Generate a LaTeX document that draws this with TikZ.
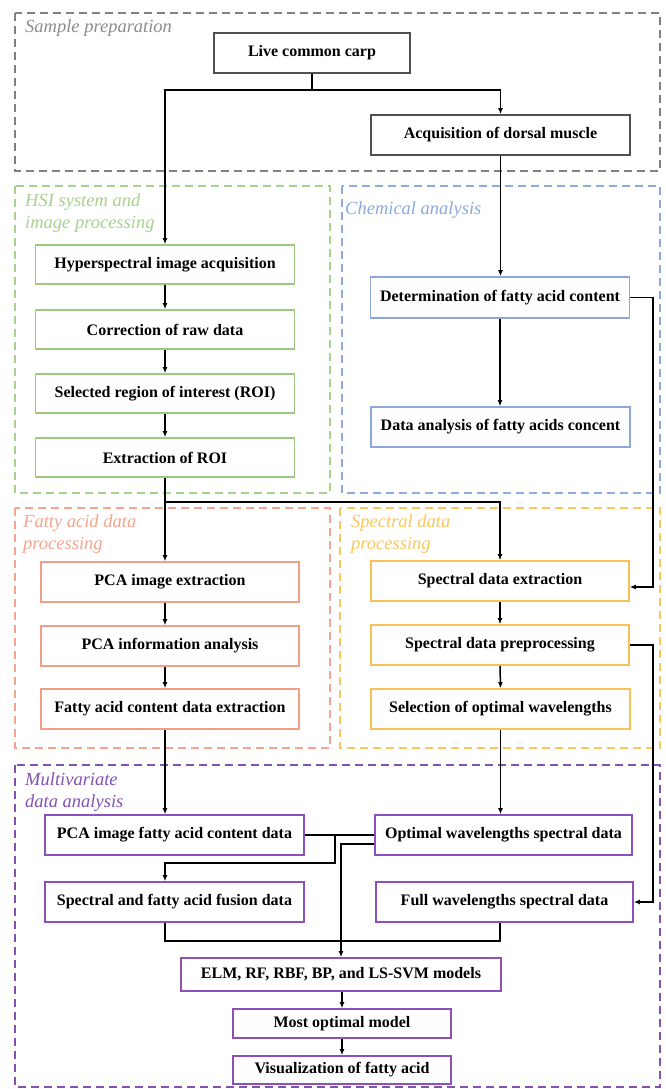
\documentclass[tikz,border=0pt]{standalone}
\usepackage{fontspec}
\setmainfont{Liberation Serif}
\usetikzlibrary{arrows.meta,calc}
\definecolor{cgray}{HTML}{808080}
\definecolor{cgraybox}{HTML}{505050}
\definecolor{cgreen}{HTML}{A9D18E}
\definecolor{cgreenbox}{HTML}{9CC97E}
\definecolor{cblue}{HTML}{8EA9DB}
\definecolor{cbluebox}{HTML}{8FA7DC}
\definecolor{csalmon}{HTML}{F5A58D}
\definecolor{csalmonbox}{HTML}{F39E87}
\definecolor{corange}{HTML}{FAC75E}
\definecolor{corangebox}{HTML}{F9C157}
\definecolor{cpurple}{HTML}{8352B0}
\definecolor{cpurplebox}{HTML}{8B50BA}
\begin{document}
\begin{tikzpicture}[x=1pt,y=-1pt,
  box/.style={draw, line width=1.6pt, minimum height=40pt, inner sep=2pt,
    font=\bfseries\fontsize{16}{19}\selectfont, fill=white},
  grp/.style={draw, line width=1.3pt, dash pattern=on 8pt off 5pt},
  lbl/.style={font=\itshape\fontsize{18.5}{22.5}\selectfont, anchor=north west,
    inner sep=0pt, align=left},
  arr/.style={line width=1.5pt, -{Latex[length=6pt,width=5pt]}},
  ln/.style={line width=1.5pt},
]
\useasboundingbox (0,0) rectangle (666,1089);
\fill[white] (0,0) rectangle (666,1089);

% group frames
\draw[grp, cgray]   (15,13)  rectangle (660,171);
\draw[grp, cgreen]  (15,186) rectangle (330,493);
\draw[grp, cblue]   (342,186) rectangle (660,493);
\draw[grp, csalmon] (15,508) rectangle (330,748);
\draw[grp, corange] (340,508) rectangle (660,748);
\draw[grp, cpurple] (15,765) rectangle (660,1087);

% group labels
\node[lbl, text=cgray!90] (lsample) at (25,19) {Sample preparation};
\node[lbl, text=cgreen] (lhsi) at (25,193) {HSI system and\\image processing};
\node[lbl, text=cblue] (lchem) at (345,201) {Chemical analysis};
\node[lbl, text=csalmon] (lfat) at (23,514) {Fatty acid data\\processing};
\node[lbl, text=corange] (lspec) at (351,514) {Spectral data\\processing};
\node[lbl, text=cpurple] (lmulti) at (25,772) {Multivariate\\data analysis};

% boxes
\node[box, draw=cgraybox, minimum width=196pt] (carp) at (312,53) {Live common carp};
\node[box, draw=cgraybox, minimum width=259pt] (acq) at (500.5,135) {Acquisition of dorsal muscle};

\node[box, draw=cgreenbox, minimum width=259pt, minimum height=39pt] (hsi1) at (165,264.5) {Hyperspectral image acquisition};
\node[box, draw=cgreenbox, minimum width=259pt, minimum height=39pt] (hsi2) at (165,329.5) {Correction of raw data};
\node[box, draw=cgreenbox, minimum width=259pt, minimum height=39pt] (hsi3) at (165,393.5) {Selected region of interest (ROI)};
\node[box, draw=cgreenbox, minimum width=259pt, minimum height=39pt] (hsi4) at (165,457.5) {Extraction of ROI};

\node[box, draw=cbluebox, minimum width=259pt, minimum height=41pt] (det) at (500,297.5) {Determination of fatty acid content};
\node[box, draw=cbluebox, minimum width=259pt] (dataan) at (500.5,427) {Data analysis of fatty acids concent};

\node[box, draw=csalmonbox, minimum width=258pt] (pca1) at (170,582) {PCA image extraction};
\node[box, draw=csalmonbox, minimum width=258pt] (pca2) at (170,646) {PCA information analysis};
\node[box, draw=csalmonbox, minimum width=258pt] (pca3) at (170,709) {Fatty acid content data extraction};

\node[box, draw=corangebox, minimum width=258pt] (spec1) at (500,581) {Spectral data extraction};
\node[box, draw=corangebox, minimum width=258pt] (spec2) at (500,645) {Spectral data preprocessing};
\node[box, draw=corangebox, minimum width=259pt] (spec3) at (500.5,709) {Selection of optimal wavelengths};

\node[box, draw=cpurplebox, minimum width=259pt] (pcaf) at (174.5,835) {PCA image fatty acid content data};
\node[box, draw=cpurplebox, minimum width=257pt] (opt) at (503.5,835) {Optimal wavelengths spectral data};
\node[box, draw=cpurplebox, minimum width=259pt] (fusion) at (174.5,902) {Spectral and fatty acid fusion data};
\node[box, draw=cpurplebox, minimum width=257pt] (full) at (504.5,902) {Full wavelengths spectral data};
\node[box, draw=cpurplebox, minimum width=320pt, minimum height=33pt] (elm) at (341,974.5) {ELM, RF, RBF, BP, and LS-SVM models};
\node[box, draw=cpurplebox, minimum width=218pt, minimum height=29pt] (most) at (342,1023.5) {Most optimal model};
\node[box, draw=cpurplebox, minimum width=218pt, minimum height=28pt] (vis) at (342,1070) {Visualization of fatty acid};

% connectors
\coordinate (j1) at (312,90);
\draw[ln] (carp.south) -- (j1);
\draw[arr] (j1) -| (hsi1.north);
\draw[arr] (j1) -| (acq.north);
\draw[arr] (acq.south) -- (acq.south |- det.north);
\draw[arr] (det.south) -- (det.south |- dataan.north);

\draw[arr] (hsi1.south) -- (hsi2.north);
\draw[arr] (hsi2.south) -- (hsi3.north);
\draw[arr] (hsi3.south) -- (hsi4.north);

\coordinate (s1in) at ($(spec1.east)+(0,6)$);
\draw[arr] (det.east) -| ($(s1in)+(23,0)$) -- (s1in);

\coordinate (j2) at (165,502);
\draw[ln] (hsi4.south) -- (j2);
\draw[arr] (j2) -- (j2 |- pca1.north);
\draw[arr] (j2) -| (spec1.north);

\draw[arr] (pca1.south -| j2) -- (pca2.north -| j2);
\draw[arr] (pca2.south -| j2) -- (pca3.north -| j2);
\draw[arr] (pca3.south -| j2) -- (pcaf.north -| j2);

\draw[arr] (spec1.south) -- (spec2.north);
\draw[arr] (spec2.south) -- (spec3.north);
\draw[arr] (spec3.south) -- (spec3.south |- opt.north);

\draw[arr] (spec2.east) -- ++(23,0) |- (full.east);

\draw[ln] (pcaf.east) -- (opt.west);
\coordinate (j3) at ($(pcaf.east)!0.437!(opt.west)$);
\draw[arr] (j3) -- ++(0,28) -| (fusion.north -| j2);

\coordinate (o2) at ($(opt.west)+(0,9)$);
\draw[arr] (o2) -| (elm.north);

\draw[ln] (fusion.south -| j2) -- ++(0,18) -| (full.south -| spec1.south);

\draw[arr] (elm.south -| most.north) -- (most.north);
\draw[arr] (most.south) -- (vis.north);
\end{tikzpicture}
\end{document}
